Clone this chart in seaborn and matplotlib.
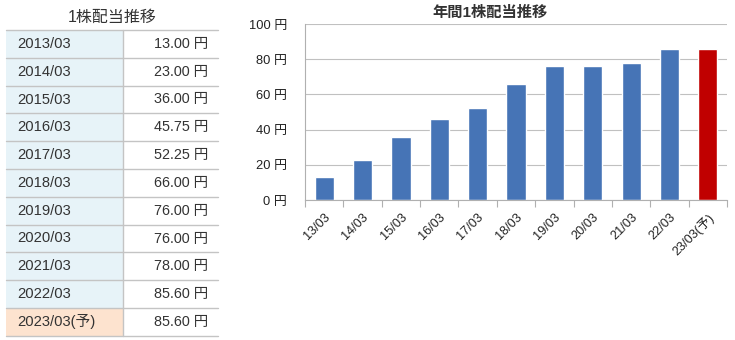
import matplotlib
matplotlib.use("Agg")
import matplotlib.pyplot as plt
import seaborn as sns
import pandas as pd
from matplotlib.patches import Rectangle
from matplotlib.ticker import FixedLocator

# ---- data ----
periods = ["2013/03", "2014/03", "2015/03", "2016/03", "2017/03", "2018/03",
           "2019/03", "2020/03", "2021/03", "2022/03", "2023/03(予)"]
short_labels = ["13/03", "14/03", "15/03", "16/03", "17/03", "18/03",
                "19/03", "20/03", "21/03", "22/03", "23/03(予)"]
dividends = [13.00, 23.00, 36.00, 45.75, 52.25, 66.00, 76.00, 76.00, 78.00, 85.60, 85.60]
is_forecast = [False] * 10 + [True]
yticks = [0, 20, 40, 60, 80, 100]

sns.set_theme(style="white")
plt.rcParams['font.family'] = ['Liberation Sans', 'Noto Sans CJK JP', 'DejaVu Sans']

W, H = 735, 340
fig = plt.figure(figsize=(W / 100, H / 100), dpi=100)

# ---- table (left) ----
tax = fig.add_axes([0, 0, 1, 1])
tax.set_xlim(0, W)
tax.set_ylim(H, 0)
tax.axis("off")
tax.text(112, 17, "1株配当推移", ha="center", va="center", fontsize=11.5, color="#333333")
x0, xs, x1 = 6, 123, 218
top, rh = 30, 27.8
line_c = "#c4c4c4"
for i, (p, v, f) in enumerate(zip(periods, dividends, is_forecast)):
    y = top + i * rh
    tax.add_patch(Rectangle((x0, y), xs - x0, rh, facecolor="#fde3cf" if f else "#e7f3f8",
                            edgecolor="none"))
    tax.text(17, y + rh / 2, p, ha="left", va="center", fontsize=10.6, color="#333333")
    tax.text(208, y + rh / 2, f"{v:.2f} 円", ha="right", va="center", fontsize=10.4, color="#333333")
    tax.plot([x0, x1], [y, y], color=line_c, lw=1)
tax.plot([x0, x1], [top + len(periods) * rh] * 2, color=line_c, lw=1)
tax.plot([xs, xs], [top, top + len(periods) * rh], color=line_c, lw=1)

# ---- bar chart (right) ----
ax = fig.add_axes([305 / W, 1 - 200 / H, (727 - 305) / W, (200 - 24) / H])
df = pd.DataFrame({"label": short_labels, "value": dividends,
                   "kind": ["予" if f else "実" for f in is_forecast]})
sns.barplot(data=df, x="label", y="value", hue="kind",
            palette={"実": "#4674b6", "予": "#c00000"}, width=0.5, dodge=False,
            legend=False, ax=ax, saturation=1)
ax.set_xlim(-0.5, len(short_labels) - 0.5)
ax.set_ylim(0, 100)
ax.set_yticks(yticks)
ax.set_yticklabels([f"{t} 円" for t in yticks], fontsize=9.3, color="#222222")
ax.set_xticks(range(len(short_labels)))
ax.set_xticklabels(short_labels, rotation=45, ha="right", rotation_mode="anchor",
                   fontsize=9.2, color="#222222")
ax.tick_params(axis="x", which="major", length=0, pad=8)
ax.tick_params(axis="y", which="major", length=0, pad=13)
ax.xaxis.set_minor_locator(FixedLocator([i - 0.5 for i in range(len(short_labels) + 1)]))
ax.tick_params(axis="x", which="minor", length=5, width=0.8, color="#b0b0b0",
               direction="out", bottom=True)
ax.set_xlabel("")
ax.set_ylabel("")
ax.grid(axis="y", color="#c0c0c0", lw=0.8)
ax.set_axisbelow(True)
for s in ["top", "right"]:
    ax.spines[s].set_visible(False)
for s in ["left", "bottom"]:
    ax.spines[s].set_color("#b0b0b0")
    ax.spines[s].set_linewidth(0.8)
fig.text(490 / W, 1 - 13 / H, "年間1株配当推移", ha="center", va="center",
         fontsize=11, fontweight="bold", color="#333333")

fig.savefig("out.png", dpi=100)
